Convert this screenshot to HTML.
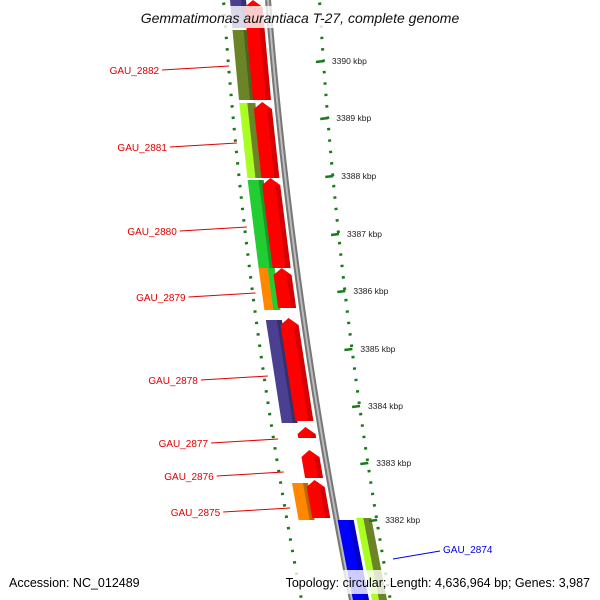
<!DOCTYPE html>
<html><head><meta charset="utf-8"><style>
body{margin:0;background:#fff;}
svg{display:block;font-family:"Liberation Sans",sans-serif;}
</style></head><body>
<svg id="c" width="600" height="600"></svg>
<script>
const revStarts=[0,30,103,180,268,320,483];
const revEnds=[28,100,178,268,310,423,520];
const revColors=["#4b3f8f","#6b8427","#aaff22","#22cc33","#ff8800","#4a3f90","#ff8800"];
const fwdStarts=[0,102,178,268,318,427,450,480];
const fwdEnds=[100,178,268,308,421,438,478,518];
const geneLabels=["GAU_2882","GAU_2881","GAU_2880","GAU_2879","GAU_2878","GAU_2877","GAU_2876","GAU_2875"];
const labelY=[70,147,231,297,380,443,476,512];
const kbpLabels=["3390 kbp","3389 kbp","3388 kbp","3387 kbp","3386 kbp","3385 kbp","3384 kbp","3383 kbp","3382 kbp"];
const kbpY=[61,118,176,234,291,349,406,463,520];
const NS="http://www.w3.org/2000/svg";
const svg=document.getElementById('c');
function bx(y){return 268+0.08*y+0.0001*y*y;}
function mk(t,a){const e=document.createElementNS(NS,t);for(const k in a)e.setAttribute(k,a[k]);svg.appendChild(e);return e;}
function band(y0,y1,o0,o1,fill,arrow){
  let p;
  if(arrow){const m=(o0+o1)/2;p=[[bx(y0+7)+o0,y0+7],[bx(y0)+m,y0],[bx(y0+7)+o1,y0+7],[bx(y1)+o1,y1],[bx(y1)+o0,y1]];}
  else p=[[bx(y0)+o0,y0],[bx(y0)+o1,y0],[bx(y1)+o1,y1],[bx(y1)+o0,y1]];
  return mk('polygon',{points:p.map(q=>q.join(',')).join(' '),fill:fill});
}
// backbone
let pts=[];for(let y=0;y<=600;y+=10)pts.push(bx(y)+','+y);
let e=mk('polyline',{points:pts.join(' '),fill:'none',stroke:'#777','stroke-width':6});

e=mk('polyline',{points:pts.join(' '),fill:'none',stroke:'#bbb','stroke-width':2});
// tick dots
for(let y=4;y<600;y+=11.4){
  let lx=bx(y)-46-0.01*y;
  e=mk('line',{x1:lx,y1:y,x2:lx+3,y2:y-0.5,stroke:'#1a7a1a','stroke-width':2.5});
  
  let rx=bx(y)+50-0.022*y;
  e=mk('line',{x1:rx,y1:y,x2:rx+3,y2:y-0.5,stroke:'#1a7a1a','stroke-width':2.5});
  
}
// reverse genes
for(let i=0;i<revStarts.length;i++){
  e=band(revStarts[i],revEnds[i],-38,-22,revColors[i]);
  
  band(revStarts[i],revEnds[i],-27,-22,'rgba(0,0,0,0.25)');
}
band(268,310,-29,-22,'#22cc33');
band(103,178,-30,-22,'#6b8427');
// forward genes
for(let i=0;i<fwdStarts.length;i++){
  e=band(fwdStarts[i],fwdEnds[i],-24,-6,'#ff0000',true);
  
  band(fwdStarts[i]+7,fwdEnds[i],-11,-6,'rgba(120,0,0,0.3)');
}
// right lane genes
e=band(520,600,1,17,'#0000ff');
band(520,600,12,17,'rgba(0,0,80,0.3)');
band(518,600,20,35,'#aaff22');band(518,600,27,35,'#6b8427');
// labels
for(let i=0;i<geneLabels.length;i++){
  const y=labelY[i];
  const tx=bx(y)-47-118;
  e=mk('text',{x:tx+50,y:y+4,fill:'#e00000','font-size':10,'text-anchor':'end'});e.textContent=geneLabels[i];
  
  mk('line',{x1:tx+53,y1:y,x2:bx(y)-45,y2:y-4,stroke:'#e00000','stroke-width':1});
}
e=mk('line',{x1:393,y1:559,x2:440,y2:551,stroke:'#0000ee','stroke-width':1});
e=mk('text',{x:443,y:553,fill:'#0000ee','font-size':10});e.textContent='GAU_2874';

for(let i=0;i<kbpLabels.length;i++){
  const y=kbpY[i];const rx=bx(y)+48-0.022*y;
  mk('line',{x1:rx-4,y1:y+1,x2:rx+4,y2:y,stroke:'#1a7a1a','stroke-width':2.5});
  e=mk('text',{x:rx+12,y:y+3,fill:'#222','font-size':8.5});e.textContent=kbpLabels[i];
  
}
// title
mk('rect',{x:118,y:6,width:364,height:22,fill:'rgba(255,255,255,0.8)'});
e=mk('text',{x:300,y:23,'text-anchor':'middle','font-size':14,'font-style':'italic',fill:'#111'});
e.textContent='Gemmatimonas aurantiaca T-27, complete genome';

mk('rect',{x:0,y:570,width:600,height:24,fill:'rgba(255,255,255,0.8)'});
e=mk('text',{x:9,y:587,'font-size':12.5,fill:'#000'});e.textContent='Accession: NC_012489';

e=mk('text',{x:590,y:587,'font-size':12.5,fill:'#000','text-anchor':'end'});e.textContent='Topology: circular; Length: 4,636,964 bp; Genes: 3,987';

</script>
</body></html>
